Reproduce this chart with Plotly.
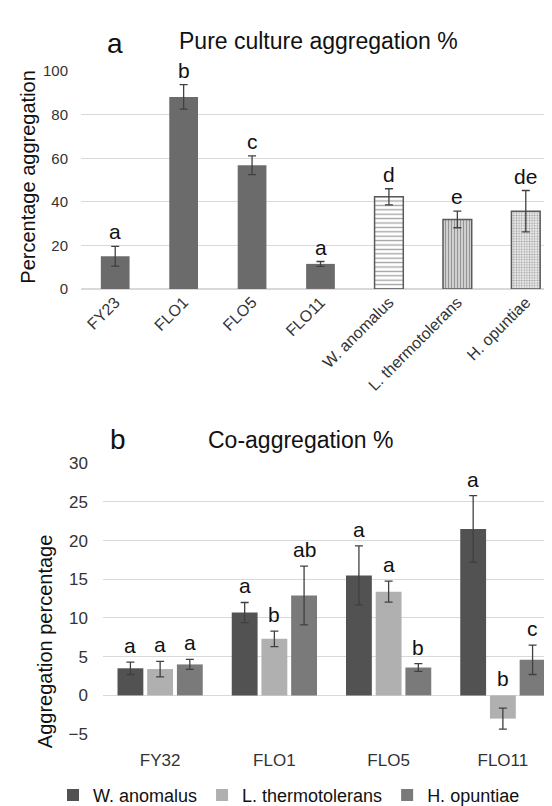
import plotly.graph_objects as go

# ---- Panel a: pure culture aggregation ----
pure_categories = ["FY23", "FLO1", "FLO5", "FLO11", "W. anomalus", "L. thermotolerans", "H. opuntiae"]
pure_mean = [15.0, 88.2, 56.8, 11.5, 42.3, 31.9, 35.7]
pure_err = [4.5, 5.6, 4.3, 1.1, 3.7, 3.8, 9.5]
pure_letters = ["a", "b", "c", "a", "d", "e", "de"]

# ---- Panel b: co-aggregation ----
co_categories = ["FY32", "FLO1", "FLO5", "FLO11"]
species = ["W. anomalus", "L. thermotolerans", "H. opuntiae"]
w_mean = [3.5, 10.7, 15.5, 21.5]
w_err = [0.8, 1.3, 3.8, 4.3]
w_letters = ["a", "a", "a", "a"]
l_mean = [3.4, 7.3, 13.4, -3.0]
l_err = [1.0, 1.0, 1.35, 1.35]
l_letters = ["a", "b", "a", "b"]
h_mean = [4.0, 12.9, 3.6, 4.6]
h_err = [0.65, 3.8, 0.5, 1.9]
h_letters = ["a", "ab", "b", "c"]

FONT = "Liberation Sans, Arial, sans-serif"
W, H = 552, 806

fig = go.Figure()

# panel a bars
fig.add_trace(go.Bar(
    x=pure_categories, y=pure_mean, width=0.42, showlegend=False,
    xaxis="x", yaxis="y",
    marker=dict(
        color=["#6b6b6b"] * 4 + ["#ffffff", "#e4e4e4", "#ebebeb"],
        line=dict(color="#5a5a5a", width=[0, 0, 0, 0, 1.5, 1.5, 1.5]),
        pattern=dict(shape=["", "", "", "", "-", "|", "."],
                     fillmode="overlay",
                     fgcolor=["#6e6e6e"] * 6 + ["#9a9a9a"],
                     size=[8, 8, 8, 8, 4.4, 3, 2.6],
                     solidity=[0.3, 0.3, 0.3, 0.3, 0.3, 0.5, 0.3]),
    ),
    error_y=dict(type="data", array=pure_err, color="#404040", thickness=1.3, width=4),
))

co_means = [w_mean, l_mean, h_mean]
co_errs = [w_err, l_err, h_err]
co_letters = [w_letters, l_letters, h_letters]
co_colors = ["#525252", "#b0b0b0", "#7a7a7a"]

for name, m, e, c in zip(species, co_means, co_errs, co_colors):
    fig.add_trace(go.Bar(
        x=co_categories, y=m, name=name, xaxis="x2", yaxis="y2",
        marker=dict(color=c, line=dict(width=0)),
        error_y=dict(type="data", array=e, color="#404040", thickness=1.3, width=4),
    ))

BARGAP = 0.22
slot = (1 - BARGAP) / 3

annotations = []
for i, (cat, m, e, t) in enumerate(zip(pure_categories, pure_mean, pure_err, pure_letters)):
    annotations.append(dict(x=cat, y=max(m + e, 0), xref="x", yref="y", text=t,
                            showarrow=False, yanchor="bottom", yshift=1,
                            font=dict(size=21, color="#111", family=FONT)))
for j, (m_list, e_list, t_list) in enumerate(zip(co_means, co_errs, co_letters)):
    for i, (m, e, t) in enumerate(zip(m_list, e_list, t_list)):
        annotations.append(dict(x=i + (j - 1) * slot, y=max(m + e, 0), xref="x2", yref="y2",
                                text=t, showarrow=False, yanchor="bottom", yshift=3,
                                font=dict(size=21, color="#111", family=FONT)))

# titles and panel labels
annotations += [
    dict(x=107 / W, y=1 - 27 / H, xref="paper", yref="paper", text="a", showarrow=False,
         font=dict(size=28, color="#111", family=FONT), xanchor="center", yanchor="middle"),
    dict(x=310 / W, y=1 - 25 / H, xref="paper", yref="paper", text="Pure culture aggregation %",
         showarrow=False, font=dict(size=23, color="#111", family=FONT), xanchor="center", yanchor="middle"),
    dict(x=110 / W, y=1 - 437 / H, xref="paper", yref="paper", text="b", showarrow=False,
         font=dict(size=28, color="#111", family=FONT), xanchor="center", yanchor="middle"),
    dict(x=292 / W, y=1 - 437 / H, xref="paper", yref="paper", text="Co-aggregation %",
         showarrow=False, font=dict(size=23, color="#111", family=FONT), xanchor="center", yanchor="middle"),
    dict(x=20 / W, y=1 - 165 / H, xref="paper", yref="paper", text="Percentage aggregation",
         textangle=-90, showarrow=False, font=dict(size=20, color="#111", family=FONT),
         xanchor="center", yanchor="middle"),
    dict(x=37 / W, y=1 - 645 / H, xref="paper", yref="paper", text="Aggregation percentage",
         textangle=-90, showarrow=False, font=dict(size=20, color="#111", family=FONT),
         xanchor="center", yanchor="middle"),
]

grid = "#d9d9d9"
fig.update_layout(
    width=W, height=H, margin=dict(l=0, r=0, t=0, b=0),
    paper_bgcolor="white", plot_bgcolor="white",
    font=dict(family=FONT, color="#333"),
    barmode="group", bargap=BARGAP, bargroupgap=0.13,
    xaxis=dict(domain=[73 / W, 1.0], anchor="y", tickangle=-45,
               tickfont=dict(size=16, color="#333"), showline=False, ticks=""),
    yaxis=dict(domain=[1 - 281 / H, 1 - 56 / H], anchor="x", range=[0, 100], dtick=20,
               gridcolor=grid, gridwidth=1, zeroline=True, zerolinecolor=grid,
               tickfont=dict(size=15, color="#333"), ticklabelstandoff=12, showline=False),
    xaxis2=dict(domain=[95 / W, 1.0], anchor="y2", tickfont=dict(size=17, color="#333"),
                showline=False, ticks="", ticklabelstandoff=14),
    yaxis2=dict(domain=[1 - 741 / H, 1 - 461 / H], anchor="x2", range=[-5, 30], dtick=5,
                gridcolor=grid, gridwidth=1, zeroline=True, zerolinecolor=grid, zerolinewidth=1,
                tickfont=dict(size=17, color="#333"), ticklabelstandoff=14, showline=False),
    legend=dict(orientation="h", x=45 / W, xanchor="left", y=1 - 785 / H, yanchor="top",
                font=dict(size=18, color="#111", family=FONT), bgcolor="rgba(0,0,0,0)",
                itemsizing="constant"),
    annotations=annotations,
)

fig.write_html("out.html")
